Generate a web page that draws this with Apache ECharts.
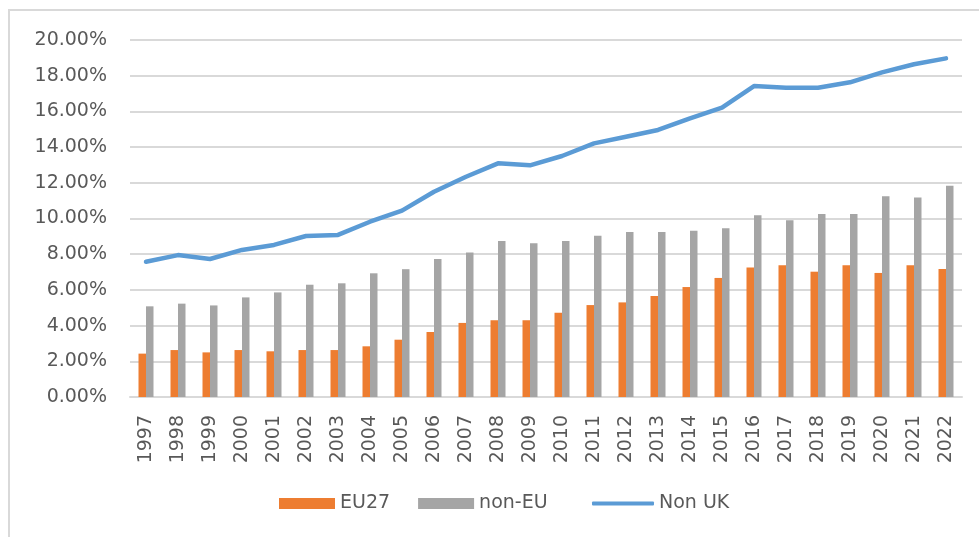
<!DOCTYPE html>
<html>
<head>
<meta charset="utf-8">
<script src="https://cdn.jsdelivr.net/npm/echarts@6/dist/echarts.min.js"></script>
<style>
  html, body { margin: 0; padding: 0; background: #fff; }
  #chart { width: 979px; height: 537px; }
</style>
</head>
<body>
<div id="chart"></div>
<script>
const years = ['1997', '1998', '1999', '2000', '2001', '2002', '2003', '2004', '2005', '2006', '2007', '2008', '2009',
  '2010', '2011', '2012', '2013', '2014', '2015', '2016', '2017', '2018', '2019', '2020', '2021', '2022']

const eu27 = [2.43, 2.63, 2.50, 2.63, 2.56, 2.63, 2.63, 2.84, 3.21, 3.64, 4.15, 4.30, 4.30,
  4.72, 5.15, 5.30, 5.66, 6.16, 6.67, 7.25, 7.38, 7.02, 7.38, 6.95, 7.38, 7.17]

const nonEu = [5.08, 5.23, 5.13, 5.58, 5.86, 6.29, 6.37, 6.93, 7.16, 7.73, 8.10, 8.74, 8.61,
  8.74, 9.04, 9.24, 9.24, 9.32, 9.45, 10.18, 9.90, 10.25, 10.25, 11.24, 11.17, 11.84]

const nonUk = [7.58, 7.95, 7.73, 8.24, 8.52, 9.02, 9.08, 9.82, 10.44, 11.50, 12.34, 13.09, 12.98,
  13.50, 14.21, 14.58, 14.96, 15.61, 16.21, 17.42, 17.33, 17.33, 17.63, 18.19, 18.64, 18.97]

const textColor = '#595959'
const gridColor = '#d9d9d9'
const fontName = 'DejaVu Sans'

const chart = echarts.init(document.getElementById('chart'))

const legendText = { color: textColor, fontSize: 19, fontFamily: fontName }

const options = {
  animation: false,
  textStyle: { fontFamily: fontName },
  graphic: [
    {
      // outer frame of the chart box (cropped on right and bottom)
      type: 'rect',
      shape: { x: 9, y: 10, width: 1000, height: 600 },
      style: { fill: 'none', stroke: gridColor, lineWidth: 2 },
      silent: true
    }
  ],
  grid: {
    left: 130,
    right: 17,
    top: 40,
    bottom: 140,
    containLabel: false
  },
  legend: [
    {
      left: 274,
      top: 489,
      itemWidth: 56,
      itemHeight: 11,
      itemGap: 28,
      icon: 'rect',
      textStyle: legendText,
      data: ['EU27', 'non-EU']
    },
    {
      left: 587,
      top: 489,
      itemWidth: 62,
      itemHeight: 4,
      icon: 'roundRect',
      textStyle: legendText,
      data: ['Non UK']
    }
  ],
  xAxis: {
    type: 'category',
    data: years,
    axisLine: { lineStyle: { color: gridColor, width: 2 } },
    axisTick: { show: false },
    axisLabel: {
      rotate: 90,
      margin: 18,
      color: textColor,
      fontSize: 19,
      fontFamily: fontName,
      interval: 0
    }
  },
  yAxis: {
    type: 'value',
    min: 0,
    max: 20,
    interval: 2,
    axisLine: { show: false },
    axisTick: { show: false },
    splitLine: { lineStyle: { color: gridColor, width: 2 } },
    axisLabel: {
      margin: 23,
      color: textColor,
      fontSize: 19,
      fontFamily: fontName,
      formatter: function (v) {
        return v.toFixed(2) + '%'
      }
    }
  },
  series: [
    {
      name: 'EU27',
      type: 'bar',
      data: eu27,
      barWidth: 7.5,
      barGap: '0%',
      itemStyle: { color: '#ed7d31' }
    },
    {
      name: 'non-EU',
      type: 'bar',
      data: nonEu,
      barWidth: 7.5,
      barGap: '0%',
      itemStyle: { color: '#a5a5a5' }
    },
    {
      name: 'Non UK',
      type: 'line',
      data: nonUk,
      symbol: 'none',
      lineStyle: { color: '#5b9bd5', width: 4.5, cap: 'round', join: 'round' },
      itemStyle: { color: '#5b9bd5' }
    }
  ]
}

chart.setOption(options)
window.addEventListener('resize', function () {
  chart.resize()
})
</script>
</body>
</html>
